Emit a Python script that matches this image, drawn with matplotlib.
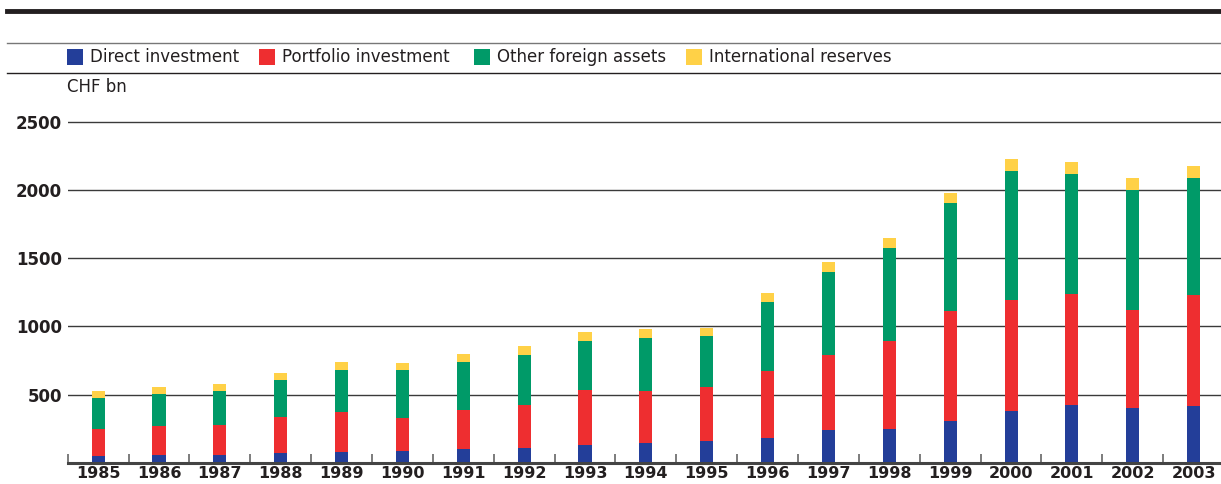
import matplotlib
matplotlib.use("Agg")
import matplotlib.pyplot as plt
from matplotlib.patches import Rectangle
from matplotlib.lines import Line2D
import numpy as np

years = ["1985", "1986", "1987", "1988", "1989", "1990", "1991", "1992", "1993", "1994",
         "1995", "1996", "1997", "1998", "1999", "2000", "2001", "2002", "2003"]
direct = [49, 56, 56, 71, 81, 86, 100, 110, 130, 144, 159, 183, 240, 247, 306, 379, 423, 403, 418]
portfolio = [198, 215, 220, 264, 293, 244, 289, 313, 405, 382, 396, 489, 550, 646, 807, 817, 817, 719, 812]
other = [228, 233, 249, 272, 306, 350, 349, 367, 358, 389, 374, 507, 609, 682, 792, 943, 877, 878, 858]
reserves = [51, 51, 52, 51, 58, 51, 59, 66, 65, 66, 59, 66, 73, 73, 73, 88, 88, 88, 88]

series_names = ["Direct investment", "Portfolio investment", "Other foreign assets", "International reserves"]
colors = ["#233e99", "#ee2e30", "#009a68", "#ffd147"]
yticks = [500, 1000, 1500, 2000, 2500]

plt.rcParams['font.family'] = ['DejaVu Sans']

W, H = 1221, 484
fig = plt.figure(figsize=(W / 100, H / 100), dpi=100)

def fx(px):
    return px / W

def fy(py):
    return 1 - py / H

ax = fig.add_axes([fx(67.7), fy(462.7), 1 - fx(67.7), fy(115) - fy(462.7)])
x = np.arange(len(years))
bottom = np.zeros(len(years))
for vals, c in zip([direct, portfolio, other, reserves], colors):
    ax.bar(x, vals, width=0.214, bottom=bottom, color=c, zorder=3, linewidth=0)
    bottom += np.array(vals)

ax.set_xlim(-0.5, 18.45)
ax.set_ylim(0, 2550)
ax.set_yticks(yticks)
ax.set_yticklabels([str(v) for v in yticks], fontsize=12, fontweight='bold', color='#231f20')
ax.set_xticks(x)
ax.set_xticklabels(years, fontsize=11.5, fontweight='bold', color='#231f20')
ax.set_xticks(np.arange(-0.5, 18.5, 1.0), minor=True)
ax.tick_params(axis='x', which='major', length=0, pad=2.5)
ax.tick_params(axis='x', which='minor', direction='in', length=6.5, width=1.2, color='#666666')
ax.tick_params(axis='y', length=0, pad=4)
ax.yaxis.grid(True, color='#3a3a3a', linewidth=1.0, zorder=1)
for s in ['left', 'right', 'top']:
    ax.spines[s].set_visible(False)
ax.spines['bottom'].set_color('#444444')
ax.spines['bottom'].set_linewidth(2.2)
ax.spines['bottom'].set_zorder(4)

# header rules
fig.add_artist(Line2D([fx(7), 1], [fy(11), fy(11)], color='#231f20', linewidth=3.5))
fig.add_artist(Line2D([fx(7), 1], [fy(42.5), fy(42.5)], color='#777777', linewidth=1.0))
fig.add_artist(Line2D([fx(7), 1], [fy(72.5), fy(72.5)], color='#231f20', linewidth=1.0))

# legend
sq_x = [67, 259, 474, 686]
for name, c, sx in zip(series_names, colors, sq_x):
    fig.add_artist(Rectangle((fx(sx), fy(65)), fx(16), fy(49) - fy(65), facecolor=c,
                             edgecolor='none', transform=fig.transFigure))
    fig.text(fx(sx + 23), fy(57.5), name, fontsize=12, color='#231f20', va='center', ha='left')

fig.text(fx(67), fy(87), "CHF bn", fontsize=12, color='#231f20', va='center', ha='left')

fig.savefig("out.png", dpi=100)
